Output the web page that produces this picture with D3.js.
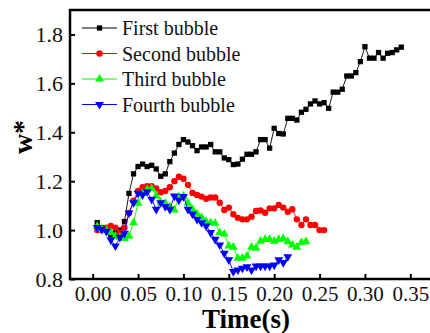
<!DOCTYPE html>
<html>
<head>
<meta charset="utf-8">
<script src="https://cdn.jsdelivr.net/npm/d3@7/dist/d3.min.js"></script>
<style>
  html, body { margin: 0; padding: 0; background: #fff; }
  svg { display: block; }
  text { font-family: "Liberation Serif", "Times New Roman", serif; }
</style>
</head>
<body>
<svg id="chart" width="430" height="333"></svg>
<script>
// Dimensionless width w* of each bubble over time (s)
const time = d3.range(1, 69).map(i => +(i * 0.005).toFixed(3));

const firstBubble = [
  1.03, 1.01, 1.00, 0.98, 0.99, 1.00, 1.035, 1.15, 1.23, 1.26,
  1.27, 1.26, 1.265, 1.25, 1.22, 1.23, 1.28, 1.315, 1.35, 1.37,
  1.36, 1.345, 1.325, 1.34, 1.34, 1.35, 1.32, 1.32, 1.295, 1.288,
  1.268, 1.27, 1.29, 1.31, 1.31, 1.32, 1.37, 1.37, 1.335, 1.416,
  1.395, 1.393, 1.457, 1.457, 1.45, 1.482, 1.494, 1.516, 1.528, 1.516,
  1.521, 1.498, 1.564, 1.564, 1.576, 1.63, 1.63, 1.644, 1.689, 1.75,
  1.703, 1.703, 1.726, 1.703, 1.723, 1.726, 1.737, 1.748
];

const secondBubble = [
  1.00, 1.00, 1.01, 1.017, 1.01, 0.99, 1.01, 1.07, 1.12, 1.16,
  1.175, 1.18, 1.18, 1.17, 1.155, 1.16, 1.175, 1.20, 1.218, 1.21,
  1.185, 1.152, 1.144, 1.137, 1.128, 1.133, 1.133, 1.112, 1.082, 1.092,
  1.065, 1.05, 1.044, 1.044, 1.055, 1.078, 1.08, 1.071, 1.089, 1.089,
  1.103, 1.092, 1.075, 1.085, 1.044, 1.021, 1.044, 1.021, 1.021, 1.00,
  1.00
];

const thirdBubble = [
  1.015, 1.005, 1.00, 0.99, 0.975, 0.97, 0.966, 0.975, 1.03, 1.11,
  1.15, 1.165, 1.17, 1.14, 1.115, 1.11, 1.096, 1.082, 1.137, 1.14,
  1.11, 1.085, 1.066, 1.052, 1.035, 1.03, 1.028, 0.99, 0.984, 0.935,
  0.93, 0.885, 0.885, 0.894, 0.93, 0.926, 0.955, 0.962, 0.962, 0.955,
  0.962, 0.966, 0.953, 0.939, 0.93, 0.949, 0.953
];

const fourthBubble = [
  1.01, 1.003, 0.995, 0.96, 0.935, 0.97, 0.987, 1.07, 1.112, 1.15,
  1.144, 1.157, 1.126, 1.085, 1.112, 1.096, 1.085, 1.139, 1.123, 1.137,
  1.085, 1.066, 1.044, 1.03, 1.017, 0.99, 0.962, 0.939, 0.905, 0.878,
  0.83, 0.837, 0.844, 0.85, 0.837, 0.853, 0.853, 0.853, 0.853, 0.857,
  0.878, 0.867, 0.891
];

const seriesNames = ["First bubble", "Second bubble", "Third bubble", "Fourth bubble"];
const seriesColors = ["#000000", "#ff0000", "#00ff00", "#0000ff"];
const xTicks = [0, 0.05, 0.10, 0.15, 0.20, 0.25, 0.30, 0.35];
const yTicks = [0.8, 1.0, 1.2, 1.4, 1.6, 1.8];

const seriesValues = [firstBubble, secondBubble, thirdBubble, fourthBubble];
const symbolTypes = [d3.symbolSquare, d3.symbolCircle, d3.symbolTriangle, d3.symbolTriangle];
const symbolSizes = [28, 32, 34, 34];
const symbolRotate = [0, 0, 0, 180];

const svg = d3.select("#chart");

const x = d3.scaleLinear().domain([-0.025, 0.375]).range([70, 433]);
const y = d3.scaleLinear().domain([0.8, 1.9]).range([279, 10]);

// axes with inward ticks
const xAxis = d3.axisBottom(x).tickValues(xTicks).tickFormat(d3.format(".2f"))
  .tickSizeInner(-5).tickSizeOuter(0).tickPadding(7);
const yAxis = d3.axisLeft(y).tickValues(yTicks).tickFormat(d3.format(".1f"))
  .tickSizeInner(-5).tickSizeOuter(0).tickPadding(7);

const gx = svg.append("g").attr("transform", `translate(0,${y.range()[0]})`).call(xAxis);
const gy = svg.append("g").attr("transform", `translate(${x.range()[0]},0)`).call(yAxis);
[gx, gy].forEach(g => {
  g.select(".domain").remove();
  g.selectAll(".tick line").attr("stroke", "#000").attr("stroke-width", 2);
  g.selectAll(".tick text").attr("fill", "#111")
    .style("font-family", "'Liberation Serif', serif");
});
gx.selectAll(".tick text").style("font-size", "21px");
gy.selectAll(".tick text").style("font-size", "22px");

// series lines and markers
seriesValues.forEach((vals, i) => {
  const pts = vals.map((v, j) => [time[j], v]);
  const line = d3.line().x(d => x(d[0])).y(d => y(d[1]));
  const g = svg.append("g");
  g.append("path").datum(pts).attr("d", line)
    .attr("fill", "none").attr("stroke", seriesColors[i]).attr("stroke-width", 0.9);
  g.selectAll("path.pt").data(pts).enter().append("path").attr("class", "pt")
    .attr("d", d3.symbol().type(symbolTypes[i]).size(symbolSizes[i]))
    .attr("transform", d => `translate(${x(d[0])},${y(d[1])}) rotate(${symbolRotate[i]})`)
    .attr("fill", seriesColors[i]);
});

// plot frame
svg.append("rect")
  .attr("x", x.range()[0]).attr("y", y.range()[1])
  .attr("width", x.range()[1] - x.range()[0]).attr("height", y.range()[0] - y.range()[1])
  .attr("fill", "none").attr("stroke", "#000").attr("stroke-width", 2.5);

// legend
const legend = svg.append("g").attr("transform", "translate(82,28)");
seriesNames.forEach((name, i) => {
  const row = legend.append("g").attr("transform", `translate(0,${i * 25.5})`);
  row.append("line").attr("x1", 0).attr("x2", 35).attr("y1", 0).attr("y2", 0)
    .attr("stroke", seriesColors[i]).attr("stroke-width", 1);
  row.append("path")
    .attr("d", d3.symbol().type(symbolTypes[i]).size(symbolSizes[i])())
    .attr("transform", `translate(17.5,0) rotate(${symbolRotate[i]})`)
    .attr("fill", seriesColors[i]);
  row.append("text").attr("x", 40).attr("y", 7).text(name)
    .style("font-size", "20px").attr("fill", "#111");
});

// axis titles
svg.append("text").attr("x", 246).attr("y", 328).attr("text-anchor", "middle")
  .style("font-size", "27px").style("font-weight", "bold").text("Time(s)");
svg.append("text").attr("transform", "translate(32,137) rotate(-90)")
  .attr("text-anchor", "middle")
  .style("font-size", "28px").style("font-weight", "bold").text("w*");
</script>
</body>
</html>
